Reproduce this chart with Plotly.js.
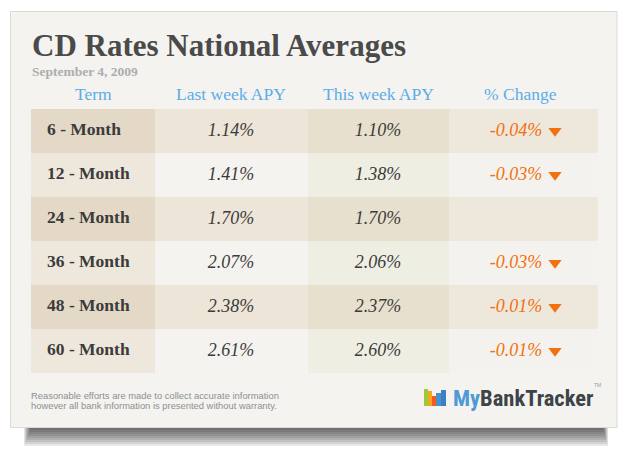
<!DOCTYPE html>
<html>
<head>
<meta charset="utf-8">
<script src="https://cdn.plot.ly/plotly-3.0.1.min.js"></script>
<style>html,body{margin:0;padding:0;background:#fff;}#chart{width:630px;height:456px;}</style>
</head>
<body>
<div id="chart"></div>
<script>
// ---- data ----
var terms = ["6 - Month", "12 - Month", "24 - Month", "36 - Month", "48 - Month", "60 - Month"];
var lastWeekAPY = [1.14, 1.41, 1.70, 2.07, 2.38, 2.61];
var thisWeekAPY = [1.10, 1.38, 1.70, 2.06, 2.37, 2.60];
var pctChange = [-0.04, -0.03, 0.00, -0.03, -0.01, -0.01];
var headers = ["Term", "Last week APY", "This week APY", "% Change"];
var chartTitle = "CD Rates National Averages";
var dateLabel = "September 4, 2009";
var footnote = ["Reasonable efforts are made to collect accurate information", "however all bank information is presented without warranty."];

// ---- layout helpers (pixel geometry, not data) ----
var W = 630, H = 456;
function px(x) { return x / W; }
function py(y) { return 1 - y / H; }
function fmt(v) { return v.toFixed(2) + "%"; }

var SERIF = "Liberation Serif, DejaVu Serif, serif";
var TXT = "#3b3b3b";
var ORANGE = "#f2700f";

var colEdges = [31, 155, 308, 449, 598];
var oddFill = ["#e4d9c7", "#ede5d8", "#e7e0ce", "#eee7dc"];
var evenFill = ["#eee7dc", "#f5f3ef", "#efeee3", "#f4f2ee"];

var traces = [];
// cell backgrounds: one horizontal bar per cell, rows on a category axis
for (var c = 0; c < 4; c++) {
  traces.push({
    type: "bar", orientation: "h",
    y: terms,
    x: terms.map(function () { return colEdges[c + 1] - colEdges[c]; }),
    base: colEdges[c],
    width: 1,
    marker: { color: terms.map(function (t, r) { return r % 2 === 0 ? oddFill[c] : evenFill[c]; }), line: { width: 0 } },
    hoverinfo: "skip"
  });
}
function textTrace(xpos, pos, texts, font) {
  return {
    type: "scatter", mode: "text", y: terms, x: terms.map(function () { return xpos; }),
    text: texts, textposition: pos, textfont: font, hoverinfo: "skip", cliponaxis: false
  };
}
traces.push(textTrace(47, "middle right", terms, { family: SERIF, size: 17.5, weight: "bold", color: TXT }));
traces.push(textTrace(231, "middle center", lastWeekAPY.map(fmt), { family: SERIF, size: 18, style: "italic", color: TXT }));
traces.push(textTrace(378, "middle center", thisWeekAPY.map(fmt), { family: SERIF, size: 18, style: "italic", color: TXT }));
traces.push(textTrace(516, "middle center", pctChange.map(function (v) { return v === 0 ? "" : fmt(v); }),
  { family: SERIF, size: 18, style: "italic", color: ORANGE }));
// down-arrow markers for the changes
var downTerms = terms.filter(function (t, i) { return pctChange[i] < 0; });
traces.push({
  type: "scatter", mode: "markers", y: downTerms, x: downTerms.map(function () { return 555; }),
  marker: { symbol: "triangle-down", size: 11.5, color: ORANGE, line: { width: 0 } },
  hoverinfo: "skip", cliponaxis: false
});

var shapes = [];
// shadow layers
for (var i = 0; i < 9; i++) {
  shapes.push({
    type: "rect", xref: "paper", yref: "paper", layer: "below",
    x0: px(24 + i * 0.8), x1: px(608 - i * 0.6), y0: py(446 - i * 2), y1: py(420),
    fillcolor: "rgba(30,30,30,0.1)", line: { width: 0 }
  });
}
// card
shapes.push({
  type: "rect", xref: "paper", yref: "paper", layer: "below",
  x0: px(10.5), x1: px(617), y0: py(427.5), y1: py(11.5),
  fillcolor: "#f4f3f0", line: { color: "#dcdad6", width: 1 }
});
// logo bars
var logoBars = [[424, 428, 389, "#9cc93b"], [428, 432, 391, "#f7a51c"], [432, 436, 396, "#f15a22"], [436, 441, 393, "#4a8fd0"], [441, 446, 390, "#3c7fc2"]];
logoBars.forEach(function (b) {
  shapes.push({ type: "rect", xref: "paper", yref: "paper", x0: px(b[0]), x1: px(b[1]), y0: py(406), y1: py(b[2]), fillcolor: b[3], line: { width: 0 } });
});

var annotations = [
  { text: "<b>" + chartTitle + "</b>", x: px(30), y: py(45), xanchor: "left", yanchor: "middle", xref: "paper", yref: "paper", showarrow: false,
    font: { family: SERIF, size: 31, color: "#4a4a4a" } },
  { text: "<b>" + dateLabel + "</b>", x: px(30), y: py(71), xanchor: "left", yanchor: "middle", xref: "paper", yref: "paper", showarrow: false,
    font: { family: SERIF, size: 13.5, color: "#adadad" } },
  { text: footnote[0], x: px(29), y: py(395), xanchor: "left", yanchor: "middle", xref: "paper", yref: "paper", showarrow: false,
    font: { family: "Liberation Sans, Arial, sans-serif", size: 9.4, color: "#8f8f8f" } },
  { text: footnote[1], x: px(29), y: py(405), xanchor: "left", yanchor: "middle", xref: "paper", yref: "paper", showarrow: false,
    font: { family: "Liberation Sans, Arial, sans-serif", size: 9.4, color: "#8f8f8f" } },
  { text: "<span style=\"color:#4d9ad6\">My</span>BankTracker", x: px(451), y: py(398), xanchor: "left", yanchor: "middle", xref: "paper", yref: "paper", showarrow: false,
    font: { family: "Liberation Sans Narrow, Roboto Condensed, Roboto, sans-serif", size: 22.5, weight: "bold", color: "#3d4348" } },
  { text: "TM", x: px(597), y: py(385), xanchor: "center", yanchor: "middle", xref: "paper", yref: "paper", showarrow: false,
    font: { family: "Liberation Sans, sans-serif", size: 5, color: "#999" } }
];
var colCenters = [93, 231, 378, 520];
headers.forEach(function (h, k) {
  annotations.push({ text: h, x: colCenters[k], y: py(94), xref: "x", yref: "paper", xanchor: "center", yanchor: "middle", showarrow: false,
    font: { family: SERIF, size: 17.5, color: "#5aade8" } });
});

var layout = {
  width: W, height: H,
  margin: { l: 0, r: 0, t: 0, b: 0 },
  paper_bgcolor: "#ffffff",
  plot_bgcolor: "rgba(0,0,0,0)",
  barmode: "overlay",
  bargap: 0,
  xaxis: { range: [0, W], visible: false, fixedrange: true, domain: [0, 1] },
  yaxis: { type: "category", categoryarray: terms, categoryorder: "array", range: [5.5, -0.5], visible: false, fixedrange: true,
           domain: [py(373), py(109)] },
  shapes: shapes,
  annotations: annotations,
  showlegend: false
};

Plotly.newPlot("chart", traces, layout, { displayModeBar: false, staticPlot: true });
</script>
</body>
</html>
